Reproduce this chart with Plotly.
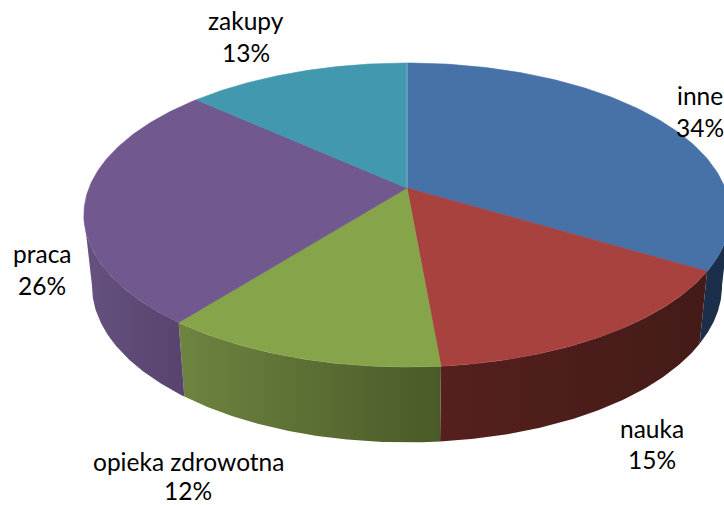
import numpy as np
import plotly.graph_objects as go

categories = ["inne", "nauka", "opieka zdrowotna", "praca", "zakupy"]
values = [33.6, 15.0, 12.0, 26.1, 13.3]
labels_pct = ["34%", "15%", "12%", "26%", "13%"]
top_colors = ["#4672A8", "#A8423F", "#86A44A", "#71588F", "#4198AF"]
wall_left = ["#1B2F4A", "#55201D", "#6E8440", "#66527F", "#4198AF"]
wall_right = ["#1B2F4A", "#431B18", "#4A5A28", "#58436E", "#4198AF"]
label_xy = [(700, 95, 127), (652, 428, 459), (188, 461, 490), (42, 253, 285), (246, 20, 52)]

W, H = 724, 505
CX, CY, A, B, K = 407, 188, 318, 147.2, 0.1776

# The reference's title is cut off by the top edge (only a few descender tips
# are visible, the wording cannot be read), so no title text is invented here.


def top(t):
    u, v = np.sin(t), np.cos(t)
    d = 1 + K * v
    return CX + A * u / d, CY - B * v / d


def bottom(t):
    x, y = top(t)
    return CX + (x - CX) * 0.975, CY + (y - CY) * 1.03 + 70


fig = go.Figure()
shares = np.array(values) / sum(values) * 2 * np.pi
edges = np.concatenate([[0], np.cumsum(shares)])

# outer walls: only between the silhouette tangents of the rim
for i in range(len(values)):
    a0, a1 = max(edges[i], np.radians(100)), min(edges[i + 1], np.radians(260))
    if a1 <= a0:
        continue
    t = np.linspace(a0, a1, 80)
    xt, yt = top(t)
    xb, yb = bottom(t)
    xs = np.concatenate([xt, xb[::-1], xt[:1]])
    ys = np.concatenate([yt, yb[::-1], yt[:1]])
    fig.add_trace(go.Scatter(
        x=xs, y=ys, mode="lines", fill="toself", line=dict(width=0),
        fillgradient=dict(type="horizontal",
                          colorscale=[[0, wall_left[i]], [1, wall_right[i]]]),
        hoverinfo="skip", showlegend=False))

# top faces
for i in range(len(values)):
    t = np.linspace(edges[i], edges[i + 1], 120)
    xt, yt = top(t)
    xs = np.concatenate([[CX], xt, [CX]])
    ys = np.concatenate([[CY], yt, [CY]])
    fig.add_trace(go.Scatter(
        x=xs, y=ys, mode="lines", fill="toself", fillcolor=top_colors[i],
        line=dict(width=0.6, color=top_colors[i]),
        hoverinfo="skip", showlegend=False))

# light seam between the last and first slices
sx, sy = top(np.array([0.0]))
fig.add_trace(go.Scatter(x=[CX, sx[0]], y=[CY, sy[0]], mode="lines",
                         line=dict(width=1, color="#7FAFC8"),
                         hoverinfo="skip", showlegend=False))

ann = []
for name, pct, (x, y1, y2) in zip(categories, labels_pct, label_xy):
    for txt, y in ((name, y1), (pct, y2)):
        ann.append(dict(x=x, y=y, xref="x", yref="y", text=txt, showarrow=False,
                        font=dict(family="Lato", size=24.5, color="#000000"),
                        xanchor="center", yanchor="middle"))

fig.update_layout(
    width=W, height=H, margin=dict(l=0, r=0, t=0, b=0),
    paper_bgcolor="white", plot_bgcolor="white", showlegend=False,
    xaxis=dict(range=[0, W], visible=False, fixedrange=True),
    yaxis=dict(range=[H, 0], visible=False, fixedrange=True),
    annotations=ann,
)
fig.write_html("out.html", config=dict(displayModeBar=False),
               post_script="document.body.style.margin='0';")
